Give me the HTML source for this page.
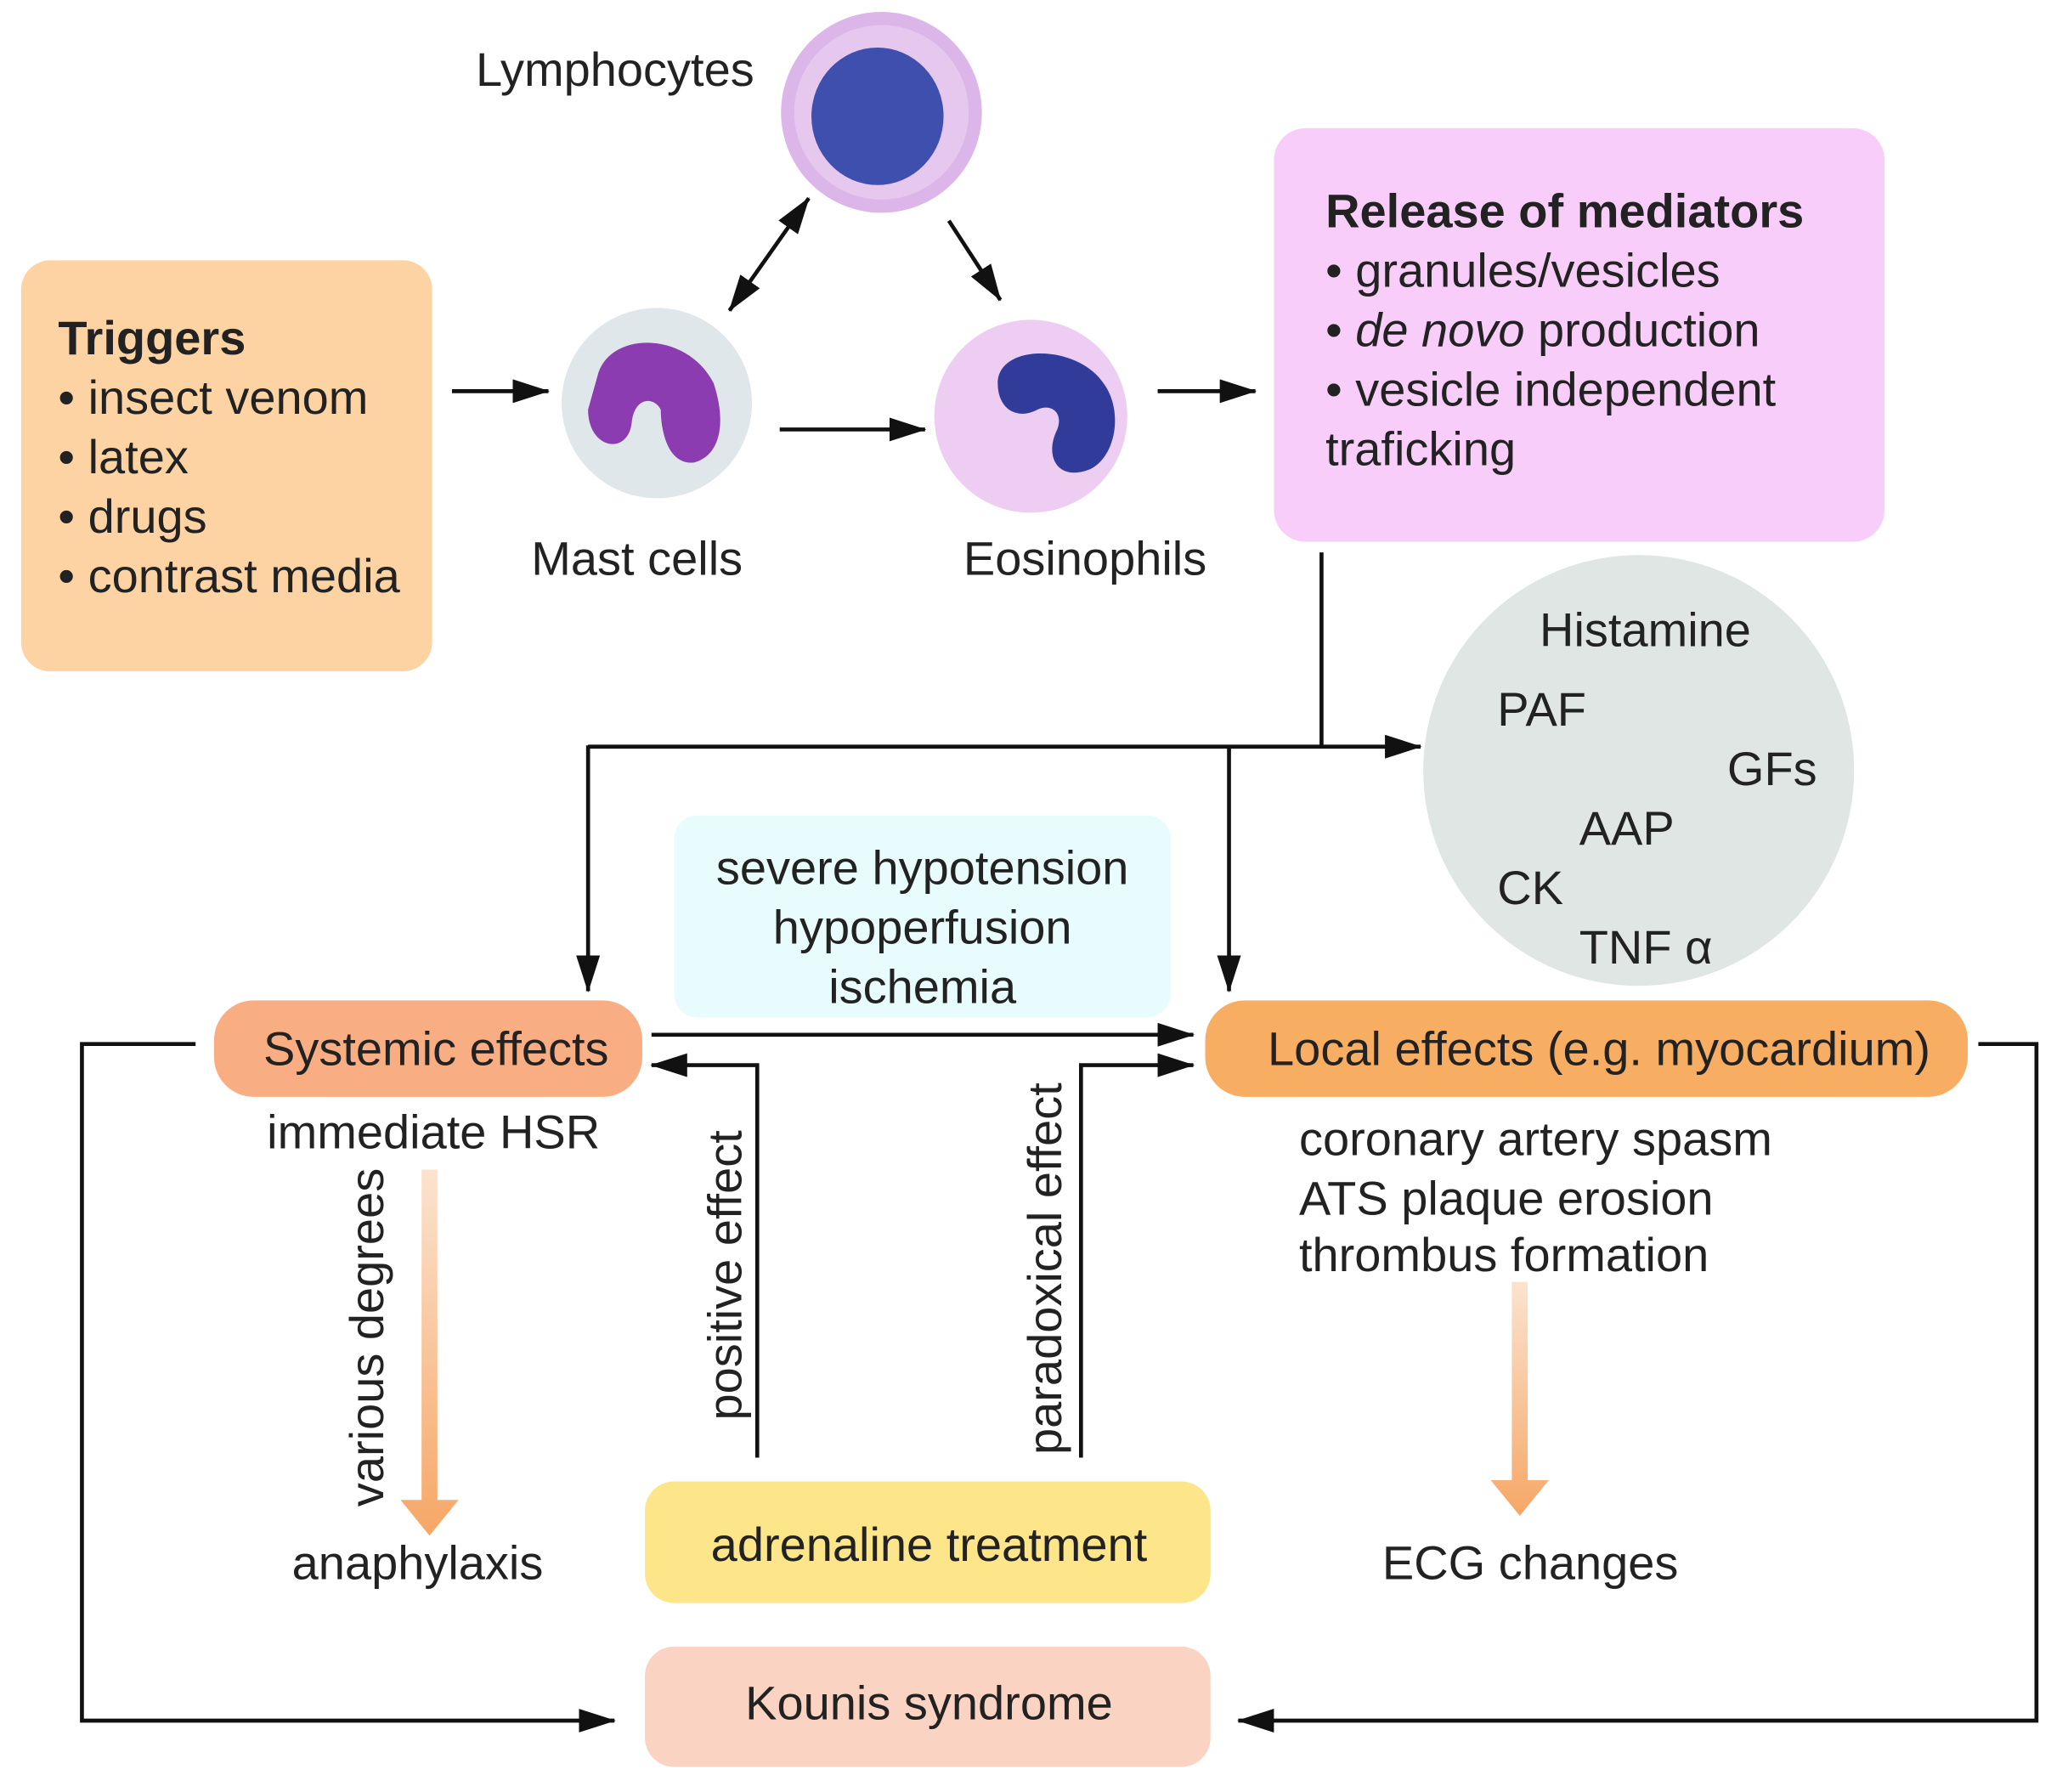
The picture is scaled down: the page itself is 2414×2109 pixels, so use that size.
<!DOCTYPE html>
<html><head><meta charset="utf-8"><style>
html,body{margin:0;padding:0;background:#fff}
svg{display:block}
text{font-family:"Liberation Sans",sans-serif;fill:#222;font-size:36px}
.b{font-weight:bold}
</style></head><body>
<svg width="2414" height="2109" viewBox="0 0 1552 1356" preserveAspectRatio="none" xmlns="http://www.w3.org/2000/svg">
<defs>
<marker id="A" markerWidth="28" markerHeight="18" refX="27" refY="9" orient="auto-start-reverse" markerUnits="userSpaceOnUse"><path d="M0,0 L28,9 L0,18z" fill="#111"/></marker>
<linearGradient id="g" x1="0" y1="0" x2="0" y2="1"><stop offset="0" stop-color="#fbe3cf"/><stop offset="1" stop-color="#f6a766"/></linearGradient>
</defs>
<rect x="16" y="197" width="311" height="311" rx="22" fill="#fdd3a3"/>
<text x="44" y="268" class="b">Triggers</text>
<text x="44" y="313">• insect venom</text>
<text x="44" y="358">• latex</text>
<text x="44" y="403">• drugs</text>
<text x="44" y="448">• contrast media</text>
<text x="360" y="65">Lymphocytes</text>
<circle cx="667" cy="85" r="76" fill="#dcb6e8"/>
<circle cx="667" cy="85" r="66" fill="#e6c8ef"/>
<ellipse cx="664" cy="88" rx="50" ry="52" fill="#3f4fae"/>
<circle cx="497" cy="305" r="72" fill="#dfe7ea"/>
<path d="M452,285 C460,250 520,250 540,290 C550,320 545,345 525,350 C505,352 500,325 500,310 C495,300 480,300 478,320 C475,345 445,340 445,310z" fill="#8a3cb0"/>
<circle cx="780" cy="315" r="73" fill="#edcdf1"/>
<path d="M755,290 C755,260 815,260 835,290 C850,310 845,345 825,355 C800,365 790,345 800,325 C805,312 795,305 785,310 C770,318 755,310 755,290z" fill="#313c9a"/>
<text x="402" y="435">Mast cells</text>
<text x="729" y="435">Eosinophils</text>
<g stroke="#111" stroke-width="3" fill="none">
<line x1="342" y1="296" x2="415" y2="296" marker-end="url(#A)"/>
<line x1="590" y1="325" x2="700" y2="325" marker-end="url(#A)"/>
<line x1="876" y1="296" x2="950" y2="296" marker-end="url(#A)"/>
<line x1="552" y1="235" x2="612" y2="150" marker-end="url(#A)" marker-start="url(#A)"/>
<line x1="718" y1="167" x2="757" y2="227" marker-end="url(#A)"/>
</g>
<rect x="964" y="97" width="462" height="313" rx="24" fill="#f9cdf9"/>
<text x="1003" y="172" class="b">Release of mediators</text>
<text x="1003" y="217">• granules/vesicles</text>
<text x="1003" y="262">• <tspan font-style="italic">de novo</tspan> production</text>
<text x="1003" y="307">• vesicle independent</text>
<text x="1003" y="352">traficking</text>
<circle cx="1240" cy="583" r="163" fill="#dfe6e4"/>
<text x="1165" y="489">Histamine</text>
<text x="1133" y="549">PAF</text>
<text x="1307" y="594">GFs</text>
<text x="1195" y="639">AAP</text>
<text x="1133" y="684">CK</text>
<text x="1195" y="729">TNF α</text>
<g stroke="#111" stroke-width="3" fill="none">
<polyline points="1000,418 1000,565"/>
<line x1="445" y1="565" x2="1075" y2="565" marker-end="url(#A)"/>
<line x1="445" y1="564" x2="445" y2="750" marker-end="url(#A)"/>
<line x1="930" y1="565" x2="930" y2="750" marker-end="url(#A)"/>
<line x1="493" y1="783" x2="903" y2="783" marker-end="url(#A)"/>
<polyline points="573,1103 573,806 493,806" marker-end="url(#A)"/>
<polyline points="818,1103 818,806 903,806" marker-end="url(#A)"/>
<polyline points="148,790 62,790 62,1302 465,1302" marker-end="url(#A)"/>
<polyline points="1497,790 1541,790 1541,1302 937,1302" marker-end="url(#A)"/>
</g>
<rect x="510" y="617" width="376" height="153" rx="18" fill="#e8fcfd"/>
<text x="698" y="669" text-anchor="middle">severe hypotension</text>
<text x="698" y="714" text-anchor="middle">hypoperfusion</text>
<text x="698" y="759" text-anchor="middle">ischemia</text>
<rect x="162" y="757" width="324" height="73" rx="30" fill="#f8ae82"/>
<text x="330" y="806" text-anchor="middle">Systemic effects</text>
<rect x="912" y="757" width="577" height="73" rx="30" fill="#f7ae62"/>
<text x="1210" y="806" text-anchor="middle">Local effects (e.g. myocardium)</text>
<text x="328" y="869" text-anchor="middle">immediate HSR</text>
<text transform="translate(290,1012) rotate(-90)" text-anchor="middle">various degrees</text>
<text transform="translate(561,965) rotate(-90)" text-anchor="middle">positive effect</text>
<text transform="translate(803,960) rotate(-90)" text-anchor="middle">paradoxical effect</text>
<polygon points="319,885 331,885 331,1135 347,1135 325,1162 303,1135 319,1135" fill="url(#g)"/>
<text x="316" y="1195" text-anchor="middle">anaphylaxis</text>
<text x="983" y="874">coronary artery spasm</text>
<text x="983" y="919">ATS plaque erosion</text>
<text x="983" y="962">thrombus formation</text>
<polygon points="1144,970 1156,970 1156,1120 1172,1120 1150,1147 1128,1120 1144,1120" fill="url(#g)"/>
<text x="1158" y="1195" text-anchor="middle">ECG changes</text>
<rect x="488" y="1121" width="428" height="92" rx="22" fill="#fde68a"/>
<text x="703" y="1181" text-anchor="middle">adrenaline treatment</text>
<rect x="488" y="1246" width="428" height="91" rx="22" fill="#fbd3c3"/>
<text x="703" y="1301" text-anchor="middle">Kounis syndrome</text>
</svg>
</body></html>
